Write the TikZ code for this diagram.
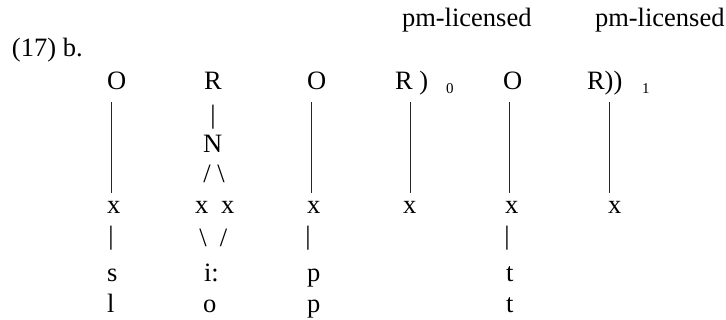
\documentclass[tikz,border=0pt]{standalone}
\usepackage{fontspec}
\setmainfont{Liberation Serif}
\usetikzlibrary{calc}
\begin{document}
\begin{tikzpicture}[x=1pt,y=-1pt,
  lab/.style={inner sep=0pt, outer sep=0pt, anchor=base west, font=\fontsize{26.5}{30}\selectfont},
  sym/.style={inner sep=0pt, outer sep=0pt, anchor=center, font=\fontsize{26.5}{30}\selectfont},
  sub/.style={inner sep=0pt, outer sep=0pt, anchor=base west, font=\fontsize{15}{17}\selectfont},
  tline/.style={line width=0.9pt, black!85}]
\useasboundingbox (0,0) rectangle (726,320);
% top labels
\node[lab] (pm1) at (402,27) {pm-licensed};
\node[lab] (pm2) at (595,27) {pm-licensed};
\node[lab] (ex) at (12,57) {(17) b.};
% top row
\node[lab] (o1) at (107,90) {O};
\node[lab] (r1) at (204,90) {R};
\node[lab] (o2) at (307,90) {O};
\node[lab] (r2) at (395,90) {R )};
\node[sub] (s0) at (446,94) {0};
\node[lab] (o3) at (503,90) {O};
\node[lab] (r3) at (587,90) {R))};
\node[sub] (s1) at (642,94) {1};
% nucleus
\node[sym] (b1) at (213,117) {|};
\node[lab] (n) at (203,153) {N};
\node[sym] (sl) at (214,174) {/ \textbackslash};
% x row
\node[lab] (x1) at (107,214) {x};
\node[lab] (x2a) at (195,214) {x};
\node[lab] (x2b) at (221,214) {x};
\node[lab] (x3) at (307,214) {x};
\node[lab] (x4) at (403,214) {x};
\node[lab] (x5) at (505,214) {x};
\node[lab] (x6) at (608,214) {x};
% bar row
\node[sym] (b2) at (111,238) {|};
\node[sym] (bs) at (203,238) {\textbackslash};
\node[sym] (fs) at (223.5,238) {/};
\node[sym] (b3) at (308,238) {|};
\node[sym] (b5) at (507,238) {|};
% segment rows
\node[lab] (s) at (107,282) {s};
\node[lab] (ii) at (204,282) {i:};
\node[lab] (p1) at (307,282) {p};
\node[lab] (t1) at (506,282) {t};
\node[lab] (l) at (107,313) {l};
\node[lab] (oo) at (203,313) {o};
\node[lab] (p2) at (307,313) {p};
\node[lab] (t2) at (506,313) {t};
% connectors
\draw[tline] ($(o1.base west)+(4,12)$) -- ($(x1.base west)+(4,-21)$);
\draw[tline] ($(o2.base west)+(4,12)$) -- ($(x3.base west)+(4,-21)$);
\draw[tline] ($(r2.base west)+(15,12)$) -- ($(x4.base west)+(7,-21)$);
\draw[tline] ($(o3.base west)+(6.5,12)$) -- ($(x5.base west)+(4.5,-21)$);
\draw[tline] ($(r3.base west)+(22,12)$) -- ($(x6.base west)+(1,-21)$);
\end{tikzpicture}
\end{document}
